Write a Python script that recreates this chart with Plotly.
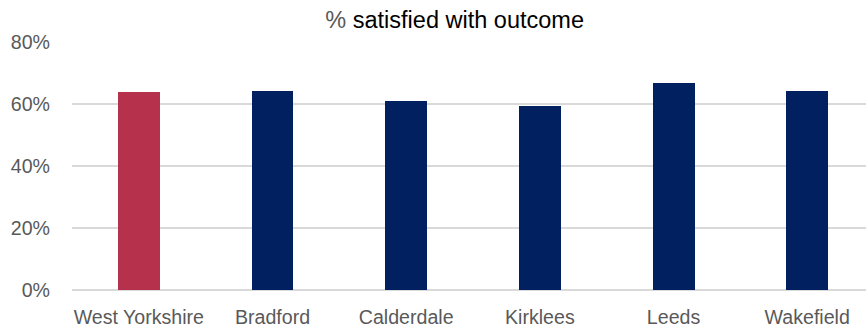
import plotly.graph_objects as go

categories = ["West Yorkshire", "Bradford", "Calderdale", "Kirklees", "Leeds", "Wakefield"]
values = [63.9, 64.3, 61.1, 59.4, 66.7, 64.2]
colors = ["#B5314C", "#002060", "#002060", "#002060", "#002060", "#002060"]
y_ticks = [0, 20, 40, 60, 80]
y_tick_labels = ["0%", "20%", "40%", "60%", "80%"]

fig = go.Figure(go.Bar(
    x=list(range(len(categories))), y=values, marker_color=colors,
    marker_line_width=0, width=0.314,
))
fig.update_layout(
    width=866, height=331,
    margin=dict(l=72, r=0, t=42, b=41),
    paper_bgcolor="white", plot_bgcolor="white",
    font=dict(family="Liberation Sans, Arial, sans-serif", size=19.6, color="#595959"),
    title=dict(text="<span style='color:#595959'>%</span> satisfied with outcome",
               x=0.525, xanchor="center", y=0.94, yanchor="middle",
               font=dict(family="Liberation Sans, Arial, sans-serif", size=23.5, color="#000000")),
    showlegend=False,
    bargap=0,
)
fig.update_xaxes(
    tickmode="array", tickvals=list(range(len(categories))), ticktext=categories,
    range=[-0.5, 5.44], showgrid=False, showline=False, ticks="", ticklen=0,
    ticklabelstandoff=13,
)
fig.update_yaxes(
    range=[0, 80], tickvals=y_ticks, ticktext=y_tick_labels,
    showgrid=True, gridcolor="#D9D9D9", gridwidth=1.5, zeroline=True,
    zerolinecolor="#D9D9D9", zerolinewidth=1.5, showline=False, ticks="",
    ticklabelstandoff=21,
)
fig.write_html("out.html")
